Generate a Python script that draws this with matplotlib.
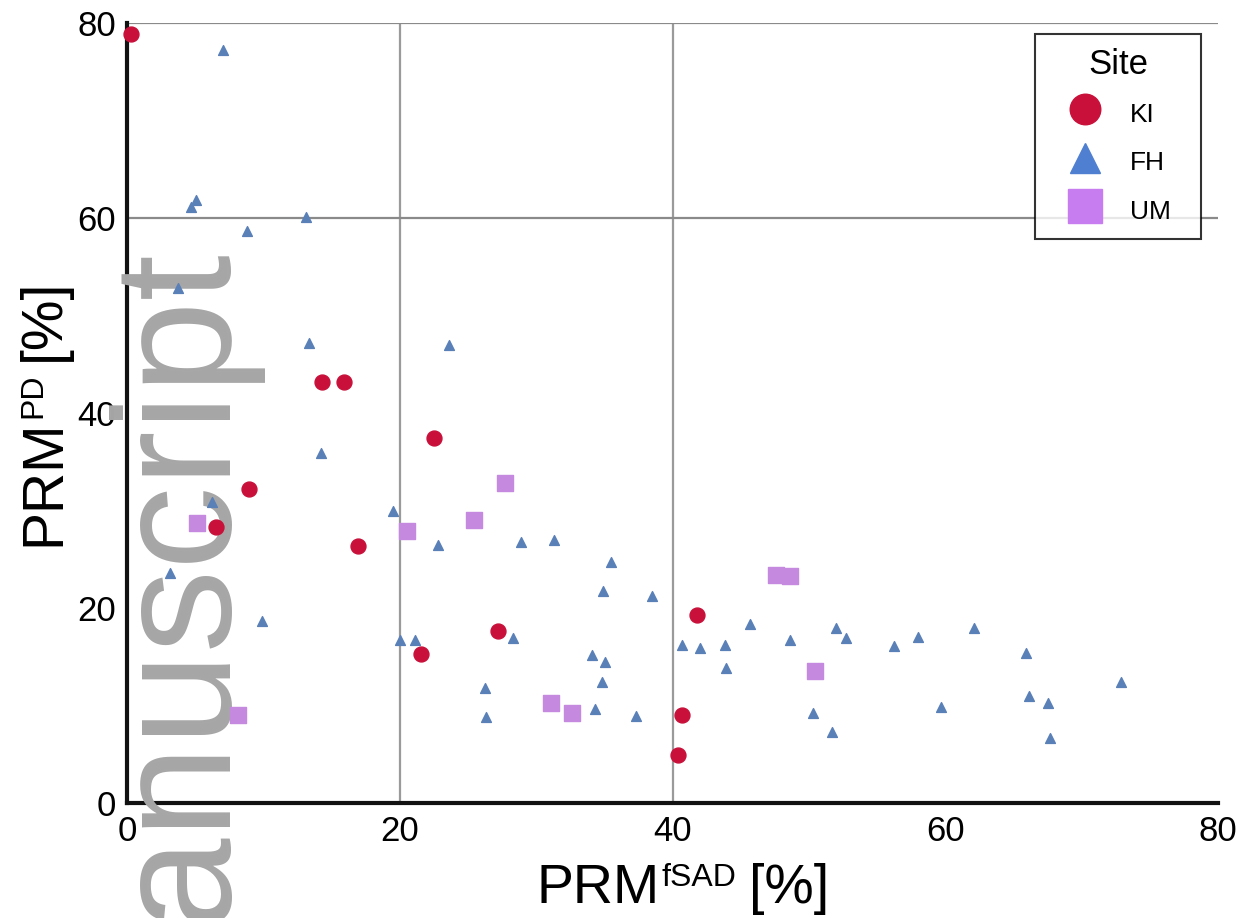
import matplotlib.pyplot as plt
from matplotlib.lines import Line2D

plt.rcParams['font.family'] = ['Liberation Sans', 'DejaVu Sans']

# KI (circles)
ki_x = [0.3, 14.3, 15.9, 22.5, 8.9, 6.5, 16.9, 41.8, 27.2, 21.5, 40.7, 40.4]
ki_y = [78.8, 43.2, 43.2, 37.4, 32.2, 28.3, 26.3, 19.3, 17.6, 15.3, 9.0, 4.9]

# FH (triangles)
fh_x = [7.0, 5.0, 4.7, 13.1, 8.8, 3.7, 13.3, 14.2, 6.2, 3.1, 19.5, 9.9, 20.0, 21.1,
        23.6, 22.8, 28.9, 31.3, 35.5, 34.9, 38.5, 28.3, 34.1, 35.0, 34.8, 26.2, 26.3,
        34.3, 37.3, 40.7, 42.0, 43.8, 43.9, 45.7, 48.6, 50.3, 52.0, 52.7, 56.2, 58.0,
        62.1, 65.9, 72.9, 51.7, 59.7, 66.1, 67.5, 67.7]
fh_y = [77.2, 61.8, 61.1, 60.1, 58.6, 52.8, 47.2, 35.9, 30.9, 23.6, 29.9, 18.7, 16.7, 16.7,
        47.0, 26.4, 26.8, 27.0, 24.7, 21.7, 21.2, 16.9, 15.2, 14.5, 12.4, 11.8, 8.8,
        9.6, 8.9, 16.2, 15.9, 16.2, 13.8, 18.3, 16.7, 9.2, 17.9, 16.9, 16.1, 17.0,
        17.9, 15.4, 12.4, 7.3, 9.8, 11.0, 10.2, 6.7]

# UM (squares)
um_x = [5.1, 8.1, 20.5, 25.4, 27.7, 31.1, 32.6, 47.6, 48.6, 50.4]
um_y = [28.7, 9.0, 27.9, 29.0, 32.8, 10.3, 9.2, 23.4, 23.3, 13.5]

ticks = [0, 20, 40, 60, 80]
sites = ['KI', 'FH', 'UM']
colors = {'KI': '#c8103a', 'FH': '#5a80b8', 'UM': '#c58ae0'}

fig = plt.figure(figsize=(12.43, 9.18), dpi=100)
ax = fig.add_axes([0.1025, 0.1253, 0.8775, 0.850])

for gx in [20, 40]:
    ax.axvline(gx, color='#9a9a9a', lw=1.6, zorder=1)
for gy in [60, 80]:
    ax.axhline(gy, color='#8a8a8a', lw=1.6, zorder=1)

ax.scatter(ki_x, ki_y, s=115, marker='o', color=colors['KI'], zorder=4, clip_on=False)
ax.scatter(fh_x, fh_y, s=50, marker='^', color=colors['FH'], zorder=4, clip_on=False)
ax.scatter(um_x, um_y, s=120, marker='s', color=colors['UM'], zorder=4, clip_on=False)

ax.set_xlim(0, 80)
ax.set_ylim(0, 80)
ax.set_xticks(ticks)
ax.set_yticks(ticks)
ax.tick_params(length=0, labelsize=25, pad=8)
ax.tick_params(axis='x', pad=9)

for side in ['top', 'right']:
    ax.spines[side].set_visible(False)
for side in ['left', 'bottom']:
    ax.spines[side].set_linewidth(3)
    ax.spines[side].set_color('#111111')

handles = [
    Line2D([], [], ls='none', marker='o', markersize=22, color=colors['KI']),
    Line2D([], [], ls='none', marker='^', markersize=22, color='#4f7fd0'),
    Line2D([], [], ls='none', marker='s', markersize=25, color='#c77df0'),
]
leg = ax.legend(handles, sites, title='Site', loc='upper left', mode='expand',
                bbox_to_anchor=(0.8317, 0.5, 0.1528, 0.485), fontsize=19,
                title_fontsize=25, frameon=True, fancybox=False, edgecolor='black',
                borderpad=0.5, handlelength=2.8, handleheight=1.5,
                handletextpad=0.3, labelspacing=0.62, borderaxespad=0)
leg.get_frame().set_linewidth(1.5)
leg.set_zorder(6)

# watermark, under the markers
ax.text(0.1768, 0.736, 'manuscript', transform=fig.transFigure, rotation=90,
        rotation_mode='anchor', ha='right', va='baseline', fontsize=120,
        color='#a6a6a6', zorder=3, clip_on=False)

# axis labels with a small superscript (built from pieces)
fig.canvas.draw()
rend = fig.canvas.get_renderer()
W, H = fig.bbox.width, fig.bbox.height
PX = fig.dpi / 72.0


def sup_label(parts, centre, base, vertical=False):
    big = parts[0][1]
    cap = 0.716 * big * PX
    items = []
    total = 0
    for s, fs, sup, gap in parts:
        t = fig.text(0, 0, s, fontsize=fs, ha='left', va='baseline')
        w = t.get_window_extent(rend).width
        shift = cap - 0.716 * fs * PX if sup else 0
        total += gap
        items.append((t, total, shift))
        total += w
    start = centre - total / 2
    for t, off, shift in items:
        if vertical:
            t.set_rotation(90)
            t.set_rotation_mode('anchor')
            t.set_position(((base - shift) / W, (start + off) / H))
        else:
            t.set_position(((start + off) / W, (base + shift) / H))


sup_label([('PRM', 40, False, 0), ('fSAD', 23, True, 1), ('[%]', 40, False, 13)],
          centre=683, base=15)
sup_label([('PRM', 41, False, 0), ('PD', 23, True, 1), ('[%]', 41, False, 13)],
          centre=H - 412, base=59, vertical=True)

fig.savefig('out.png', dpi=100)
